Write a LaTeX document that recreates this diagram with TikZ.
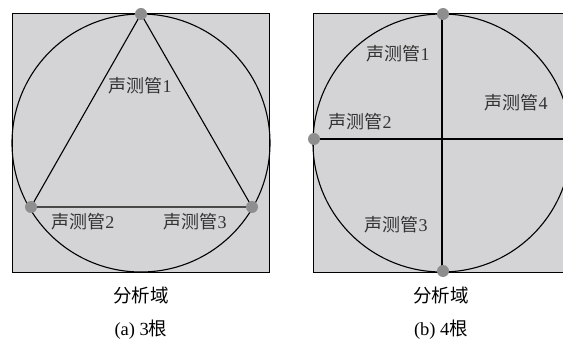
\documentclass[tikz,border=0pt]{standalone}
\usepackage{fontspec}
\setmainfont{Liberation Serif}
\newfontfamily\cjk{Noto Sans CJK SC}
\definecolor{fillgray}{HTML}{D4D4D6}
\definecolor{dotgray}{HTML}{8E8E8E}
\definecolor{txt}{HTML}{333333}
\tikzset{
  area/.style={draw=black, line width=1pt, fill=fillgray},
  ln/.style={draw=black, line width=1.1pt},
  dot/.style={circle, fill=dotgray, inner sep=0pt, minimum size=12pt},
  lbl/.style={text=txt, font=\fontsize{18}{18}\selectfont, inner sep=0pt},
  captxt/.style={text=black, font=\fontsize{18.5}{18.5}\selectfont, inner sep=0pt}
}
\newcommand{\sct}[1]{{\cjk 声测管}#1}
\begin{document}
\begin{tikzpicture}[x=1pt,y=-1pt]
\useasboundingbox (0,0) rectangle (563,339);
\clip (0,0) rectangle (563,339);
% panel a
\draw[area] (12,14) rectangle (269,273);
\draw[ln] (141,143) circle (129);
\coordinate (t1) at (141,14);
\coordinate (t2) at (31,207);
\coordinate (t3) at (252,207);
\draw[ln] (t1) -- (t2) -- (t3) -- cycle;
\node[dot] (d1) at (t1) {};
\node[dot] (d2) at (t2) {};
\node[dot] (d3) at (t3) {};
\node[lbl] (la1) at (140,86) {\sct{1}};
\node[lbl] (la2) at (83,222) {\sct{2}};
\node[lbl] (la3) at (195,222) {\sct{3}};
\node[captxt] (ca) at (141,295) {\cjk 分析域};
\node[captxt] (sa) at (141,330) {(a) 3{\cjk 根}};
% panel b
\draw[area] (313,14) rectangle (575,273);
\draw[ln] (442,143) circle (129);
\coordinate (b1) at (442,14);
\coordinate (b3) at (442,273);
\coordinate (b2) at (313,139);
\coordinate (b4) at (575,139);
\draw[ln] (b1) -- (b3);
\draw[ln] (b2) -- (b4);
\node[dot] (e1) at (443,14) {};
\node[dot] (e2) at (314,139) {};
\node[dot] (e3) at (443,271) {};
\node[lbl] (lb1) at (398,54) {\sct{1}};
\node[lbl] (lb2) at (360,122) {\sct{2}};
\node[lbl] (lb4) at (516,103) {\sct{4}};
\node[lbl] (lb3) at (396,225) {\sct{3}};
\node[captxt] (cb) at (441,295) {\cjk 分析域};
\node[captxt] (sb) at (441,330) {(b) 4{\cjk 根}};
\end{tikzpicture}
\end{document}
